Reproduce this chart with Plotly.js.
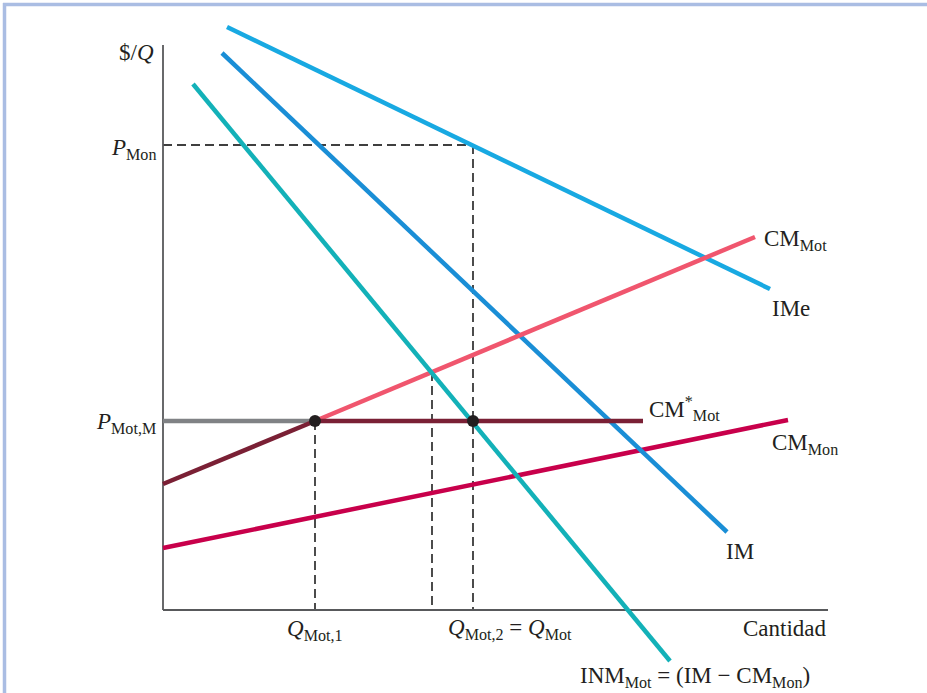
<!DOCTYPE html>
<html>
<head>
<meta charset="utf-8">
<script src="https://cdn.plot.ly/plotly-3.0.1.min.js"></script>
<style>
  html, body { margin: 0; padding: 0; background: #ffffff; }
  #chart { width: 927px; height: 693px; }
</style>
</head>
<body>
<div id="chart"></div>
<script>
// Abstract units (quantity on x, $/Q on y)
const axisX = [0, 66.5];          // x-axis extent (Cantidad)
const axisY = [0, 56.5];          // y-axis extent ($/Q)

const imeX = [6.4, 60.7],  imeY = [58.3, 32.1];   // IMe (demand)
const imX  = [5.9, 56.4],  imY  = [55.7, 7.8];    // IM
const inmX = [3.0, 50.7],  inmY = [52.6, -5.1];   // INM_Mot = IM - CM_Mon
const cmMotLowX = [0, 15.2],  cmMotLowY = [12.6, 18.9];  // CM_Mot, lower part (dark)
const cmMotX = [15.2, 59.2],  cmMotY = [18.9, 37.3];     // CM_Mot
const cmStarGrayX = [0, 15.2], cmStarGrayY = [18.9, 18.9];
const cmStarX = [15.2, 48.0],  cmStarY = [18.9, 18.9];   // CM*_Mot
const cmMonX = [0, 62.5],  cmMonY = [6.2, 19.0];  // CM_Mon

const pMon = 46.5;          // P_Mon
const pMotM = 18.9;         // P_Mot,M
const qMot1 = 15.2;         // Q_Mot,1
const qMid = 26.9, qMidY = 23.8;   // INM ∩ CM_Mot
const qMot2 = 31.0;         // Q_Mot,2 = Q_Mot

const dotsX = [qMot1, qMot2], dotsY = [pMotM, pMotM];

function line(x, y, color, width, dash) {
  return { x: x, y: y, mode: 'lines', type: 'scatter', hoverinfo: 'skip',
           line: { color: color, width: width, dash: dash || 'solid' } };
}
const dashStyle = '9px,5px';
const traces = [
  // guide lines
  line([0, qMot2], [pMon, pMon], '#000000', 1.4, dashStyle),
  line([qMot2, qMot2], [pMon, 0], '#000000', 1.4, dashStyle),
  line([qMot1, qMot1], [pMotM, 0], '#000000', 1.4, dashStyle),
  line([qMid, qMid], [qMidY, 0], '#000000', 1.4, dashStyle),
  // axes
  line([0, 0], axisY, '#58595b', 1.8),
  line(axisX, [0, 0], '#58595b', 1.8),
  // curves
  line(cmMonX, cmMonY, '#c8004b', 4.5),
  line(imeX, imeY, '#18a9e2', 4.5),
  line(imX, imY, '#1a8ed6', 4.5),
  line(cmMotX, cmMotY, '#f0566e', 4.5),
  line(inmX, inmY, '#13b1b8', 4.5),
  line(cmStarGrayX, cmStarGrayY, '#808285', 4.5),
  line(cmMotLowX, cmMotLowY, '#7a2035', 4.5),
  line(cmStarX, cmStarY, '#7a2035', 4.5),
  { x: dotsX, y: dotsY, mode: 'markers', type: 'scatter', hoverinfo: 'skip',
    marker: { color: '#231f20', size: 12 } }
];

const tf = { family: 'Liberation Serif, serif', size: 23, color: '#231f20' };
function ann(text, x, y, xa, ya) {
  return { text: text, x: x, y: y, xref: 'x', yref: 'y', showarrow: false,
           xanchor: xa, yanchor: ya, font: tf };
}
const annotations = [
  ann('$/<i>Q</i>', -0.7, 55.8, 'right', 'middle'),
  ann('<i>P</i><sub>Mon</sub>', -0.5, pMon - 0.4, 'right', 'middle'),
  ann('<i>P</i><sub>Mot,M</sub>', -0.5, pMotM - 0.2, 'right', 'middle'),
  ann('<i>Q</i><sub>Mot,1</sub>', qMot1, -0.4, 'center', 'top'),
  ann('<i>Q</i><sub>Mot,2</sub> = <i>Q</i><sub>Mot</sub>', 28.3, -0.3, 'left', 'top'),
  ann('Cantidad', 66.6, -0.4, 'right', 'top'),
  ann('INM<sub>Mot</sub> = (IM − CM<sub>Mon</sub>)', 41.5, -8.25, 'left', 'bottom'),
  ann('CM<sub>Mot</sub>', 59.9, 37.0, 'left', 'middle'),
  ann('IMe', 60.7, 30.2, 'left', 'middle'),
  ann('CM<sup>*</sup><sub>Mot</sub>', 48.4, 20.2, 'left', 'middle'),
  ann('CM<sub>Mon</sub>', 60.7, 16.6, 'left', 'middle'),
  ann('IM', 56.1, 5.9, 'left', 'middle')
];

const W = 927, H = 693;
const layout = {
  width: W, height: H,
  margin: { l: 0, r: 0, t: 0, b: 0 },
  paper_bgcolor: '#ffffff', plot_bgcolor: '#ffffff',
  showlegend: false,
  xaxis: { range: [-16.3, 76.4], visible: false, fixedrange: true },
  yaxis: { range: [-8.3, 61.0], visible: false, fixedrange: true },
  annotations: annotations,
  shapes: [
    { type: 'line', xref: 'paper', yref: 'paper', x0: 4.5 / W, x1: 4.5 / W, y0: 0, y1: 1 - 3 / H,
      line: { color: '#aabde3', width: 3.5 } },
    { type: 'line', xref: 'paper', yref: 'paper', x0: 3 / W, x1: 1, y0: 1 - 4.5 / H, y1: 1 - 4.5 / H,
      line: { color: '#aabde3', width: 3.5 } }
  ]
};

Plotly.newPlot('chart', traces, layout, { displayModeBar: false, staticPlot: true });
</script>
</body>
</html>
